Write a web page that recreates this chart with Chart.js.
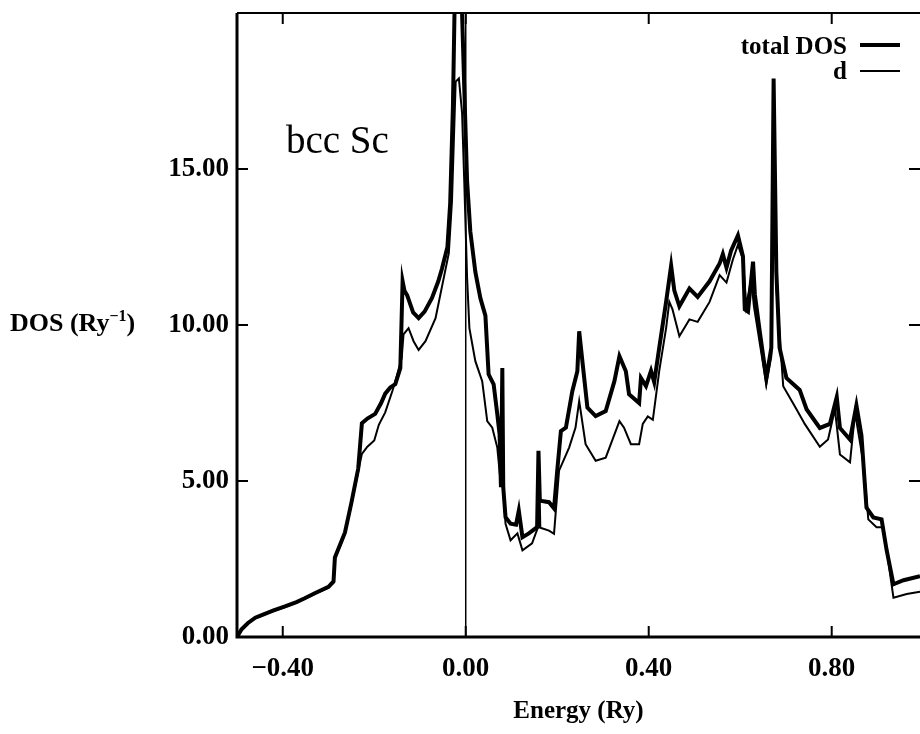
<!DOCTYPE html>
<html lang="en">
<head>
  <meta charset="UTF-8">
  <title>bcc Sc DOS</title>
  <script src="https://cdn.jsdelivr.net/npm/chart.js"></script>
  <style>
    body {
      margin: 0;
      background: #fff;
    }

    .wrap {
      position: relative;
      width: 920px;
      height: 734px;
      font-family: 'Liberation Serif', 'DejaVu Serif', serif;
      color: #000;
    }

    .ylabel {
      position: absolute;
      left: 10px;
      top: 308px;
      font-size: 26px;
      font-weight: bold;
      line-height: 1;
      white-space: nowrap;
    }

    .ylabel sup {
      font-size: 16px;
    }

    .tag {
      position: absolute;
      left: 286px;
      top: 120px;
      font-size: 39px;
      line-height: 1;
    }

    .lg-text {
      position: absolute;
      right: 73px;
      font-size: 25px;
      font-weight: bold;
      line-height: 1;
      white-space: nowrap;
    }

    .lg-line {
      position: absolute;
      left: 860px;
      width: 40px;
      background: #000;
    }
  </style>
</head>
<body>
  <div class="wrap">
    <canvas id="dosChart" width="920" height="734"></canvas>
    <div class="ylabel">DOS (Ry<sup>−1</sup>)</div>
    <div class="tag">bcc Sc</div>
    <div class="lg-text" style="top: 33px;">total DOS</div>
    <div class="lg-line" style="top: 43px; height: 4px;"></div>
    <div class="lg-text" style="top: 58px;">d</div>
    <div class="lg-line" style="top: 70px; height: 2px;"></div>
  </div>

  <script>
    // energy (Ry) and DOS (1/Ry)
    const totalE = [
      -0.500, -0.490, -0.476, -0.460, -0.450, -0.420, -0.395, -0.370, -0.352, -0.330,
      -0.300, -0.289, -0.286, -0.275, -0.264, -0.250, -0.235, -0.227, -0.215, -0.198,
      -0.185, -0.176, -0.165, -0.154, -0.143, -0.138, -0.134, -0.128, -0.115, -0.103,
      -0.090, -0.074, -0.060, -0.052, -0.040, -0.034, -0.028, -0.024, -0.016, -0.009,
      -0.003, 0.003, 0.010, 0.021, 0.032, 0.043, 0.050, 0.061, 0.069, 0.074,
      0.077, 0.080, 0.082, 0.087, 0.098, 0.110, 0.116, 0.124, 0.138, 0.156,
      0.159, 0.162, 0.182, 0.193, 0.200, 0.208, 0.219, 0.233, 0.244, 0.248,
      0.255, 0.266, 0.284, 0.306, 0.325, 0.336, 0.350, 0.357, 0.379, 0.383,
      0.394, 0.405, 0.412, 0.423, 0.438, 0.449, 0.456, 0.467, 0.489, 0.507,
      0.533, 0.555, 0.562, 0.570, 0.580, 0.595, 0.606, 0.610, 0.617, 0.628,
      0.632, 0.643, 0.657, 0.668, 0.673, 0.679, 0.686, 0.701, 0.730, 0.745,
      0.774, 0.796, 0.811, 0.818, 0.840, 0.854, 0.865, 0.876, 0.891, 0.909,
      0.920, 0.935, 0.957, 0.993
    ];
    const totalDOS = [
      0.00, 0.25, 0.45, 0.62, 0.68, 0.85, 0.98, 1.12, 1.24, 1.40,
      1.61, 1.78, 2.55, 2.95, 3.35, 4.30, 5.40, 6.85, 7.00, 7.15,
      7.50, 7.80, 8.00, 8.10, 8.62, 11.40, 11.10, 10.95, 10.40, 10.22,
      10.43, 10.86, 11.40, 11.80, 12.50, 13.90, 17.00, 20.50, 22.00, 20.50,
      17.50, 14.60, 13.00, 11.70, 10.86, 10.30, 8.42, 8.10, 7.14, 6.50,
      4.80, 8.62, 4.80, 3.84, 3.63, 3.60, 4.05, 3.20, 3.32, 3.52,
      5.97, 4.37, 4.32, 4.12, 5.33, 6.60, 6.71, 7.88, 8.52, 9.80,
      8.84, 7.35, 7.08, 7.24, 8.20, 9.00, 8.52, 7.78, 7.50, 8.30,
      8.04, 8.53, 8.17, 9.27, 10.74, 11.90, 11.10, 10.60, 11.17, 10.90,
      11.40, 11.97, 12.27, 11.84, 12.38, 12.87, 12.20, 10.50, 10.43, 12.03,
      10.98, 9.76, 8.30, 9.27, 17.90, 11.70, 9.27, 8.30, 7.92, 7.30,
      6.70, 6.83, 7.69, 6.70, 6.33, 7.43, 6.46, 4.15, 3.83, 3.77,
      2.79, 1.69, 1.82, 1.95
    ];

    const dE = [
      -0.500, -0.490, -0.476, -0.460, -0.450, -0.420, -0.395, -0.370, -0.352, -0.330,
      -0.300, -0.289, -0.286, -0.275, -0.264, -0.250, -0.235, -0.227, -0.215, -0.200,
      -0.190, -0.176, -0.160, -0.150, -0.140, -0.136, -0.125, -0.114, -0.103, -0.088,
      -0.066, -0.044, -0.037, -0.030, -0.022, -0.015, -0.008, -0.003, 0.003, 0.008,
      0.021, 0.036, 0.047, 0.058, 0.069, 0.076, 0.080, 0.083, 0.087, 0.098,
      0.113, 0.124, 0.145, 0.158, 0.160, 0.163, 0.182, 0.193, 0.204, 0.226,
      0.240, 0.248, 0.262, 0.284, 0.306, 0.336, 0.346, 0.361, 0.379, 0.387,
      0.398, 0.409, 0.423, 0.438, 0.445, 0.452, 0.467, 0.489, 0.507, 0.533,
      0.555, 0.570, 0.584, 0.595, 0.606, 0.613, 0.624, 0.630, 0.643, 0.657,
      0.668, 0.673, 0.679, 0.694, 0.723, 0.741, 0.774, 0.792, 0.807, 0.818,
      0.840, 0.851, 0.869, 0.880, 0.898, 0.913, 0.935, 0.964, 0.993
    ];
    const dDOS = [
      0.00, 0.23, 0.43, 0.60, 0.66, 0.83, 0.96, 1.10, 1.22, 1.38,
      1.58, 1.74, 2.50, 2.90, 3.30, 4.25, 5.30, 5.87, 6.10, 6.30,
      6.80, 7.20, 7.90, 8.40, 8.94, 9.70, 9.90, 9.48, 9.20, 9.48,
      10.22, 11.80, 12.30, 14.00, 17.80, 17.90, 16.80, 14.50, 11.50, 9.90,
      8.84, 8.20, 6.92, 6.71, 6.07, 5.00, 8.30, 4.50, 3.63, 3.10,
      3.32, 2.78, 3.00, 3.52, 5.70, 3.50, 3.41, 3.31, 5.33, 6.07,
      6.71, 7.56, 6.18, 5.65, 5.75, 6.92, 6.71, 6.18, 6.18, 6.83,
      7.07, 6.96, 8.53, 9.90, 10.74, 10.50, 9.64, 10.18, 10.10, 10.74,
      11.60, 11.36, 12.10, 12.57, 12.10, 10.60, 11.47, 10.60, 9.40, 8.10,
      9.00, 17.50, 11.20, 8.04, 7.30, 6.83, 6.10, 6.33, 7.30, 5.85,
      5.60, 7.19, 5.60, 3.77, 3.52, 3.52, 1.26, 1.38, 1.45
    ];

    // Fermi level marker
    const fermiE = [0, 0];
    const fermiDOS = [0, 20];

    const xTicks = [-0.4, 0.0, 0.4, 0.8];
    const xTickLabels = ['−0.40', '0.00', '0.40', '0.80'];
    const yTicks = [0, 5, 10, 15];
    const yTickLabels = ['0.00', '5.00', '10.00', '15.00'];

    const toPoints = (xs, ys) => xs.map((x, i) => ({ x: x, y: ys[i] }));

    // frame with inward tick marks on all sides
    const framePlugin = {
      id: 'frame',
      afterDatasetsDraw(chart) {
        const { ctx, chartArea: a, scales: { x, y } } = chart;
        const len = 11;
        ctx.save();
        ctx.strokeStyle = '#000';
        ctx.lineCap = 'butt';

        ctx.lineWidth = 3;
        ctx.beginPath();
        ctx.moveTo(a.left, a.top);
        ctx.lineTo(a.left, a.bottom);
        ctx.lineTo(a.right, a.bottom);
        ctx.stroke();

        ctx.lineWidth = 2;
        ctx.beginPath();
        ctx.moveTo(a.left, a.top);
        ctx.lineTo(a.right, a.top);
        ctx.stroke();

        ctx.lineWidth = 2;
        ctx.beginPath();
        xTicks.forEach(v => {
          const px = x.getPixelForValue(v);
          ctx.moveTo(px, a.bottom);
          ctx.lineTo(px, a.bottom - len);
          ctx.moveTo(px, a.top);
          ctx.lineTo(px, a.top + len);
        });
        yTicks.forEach(v => {
          if (v === 0) return;
          const py = y.getPixelForValue(v);
          ctx.moveTo(a.left, py);
          ctx.lineTo(a.left + len, py);
          ctx.moveTo(a.right, py);
          ctx.lineTo(a.right - len, py);
        });
        ctx.stroke();
        ctx.restore();
      }
    };

    const ctx = document.getElementById('dosChart').getContext('2d');
    new Chart(ctx, {
      type: 'line',
      data: {
        datasets: [
          {
            label: 'E_F',
            data: toPoints(fermiE, fermiDOS),
            borderColor: '#000',
            borderWidth: 1.5,
            pointRadius: 0
          },
          {
            label: 'd',
            data: toPoints(dE, dDOS),
            borderColor: '#000',
            borderWidth: 2,
            pointRadius: 0,
            tension: 0
          },
          {
            label: 'total DOS',
            data: toPoints(totalE, totalDOS),
            borderColor: '#000',
            borderWidth: 4,
            pointRadius: 0,
            tension: 0
          }
        ]
      },
      options: {
        responsive: false,
        animation: false,
        events: [],
        layout: { padding: { top: 13, right: 0, left: 0, bottom: 0 } },
        plugins: {
          legend: { display: false },
          tooltip: { enabled: false }
        },
        scales: {
          x: {
            type: 'linear',
            min: -0.5,
            max: 0.993,
            grid: { display: false },
            border: { display: false },
            afterBuildTicks: scale => {
              scale.ticks = xTicks.map(v => ({ value: v }));
            },
            afterFit: scale => {
              scale.height = 97;
              scale.paddingLeft = 0;
              scale.paddingRight = 0;
            },
            ticks: {
              autoSkip: false,
              maxRotation: 0,
              padding: 8,
              color: '#000',
              font: { family: 'Liberation Serif', size: 27, weight: 'bold' },
              callback: value => xTickLabels[xTicks.indexOf(value)]
            },
            title: {
              display: true,
              text: 'Energy (Ry)',
              color: '#000',
              font: { family: 'Liberation Serif', size: 25, weight: 'bold' },
              padding: { top: 0, bottom: 7 }
            }
          },
          y: {
            min: 0,
            max: 20,
            grid: { display: false },
            border: { display: false },
            afterBuildTicks: scale => {
              scale.ticks = yTicks.map(v => ({ value: v }));
            },
            afterFit: scale => {
              scale.width = 237;
              scale.paddingTop = 0;
              scale.paddingBottom = 0;
            },
            ticks: {
              padding: 0,
              color: '#000',
              font: { family: 'Liberation Serif', size: 27, weight: 'bold' },
              callback: value => yTickLabels[yTicks.indexOf(value)]
            }
          }
        }
      },
      plugins: [framePlugin]
    });
  </script>
</body>
</html>
